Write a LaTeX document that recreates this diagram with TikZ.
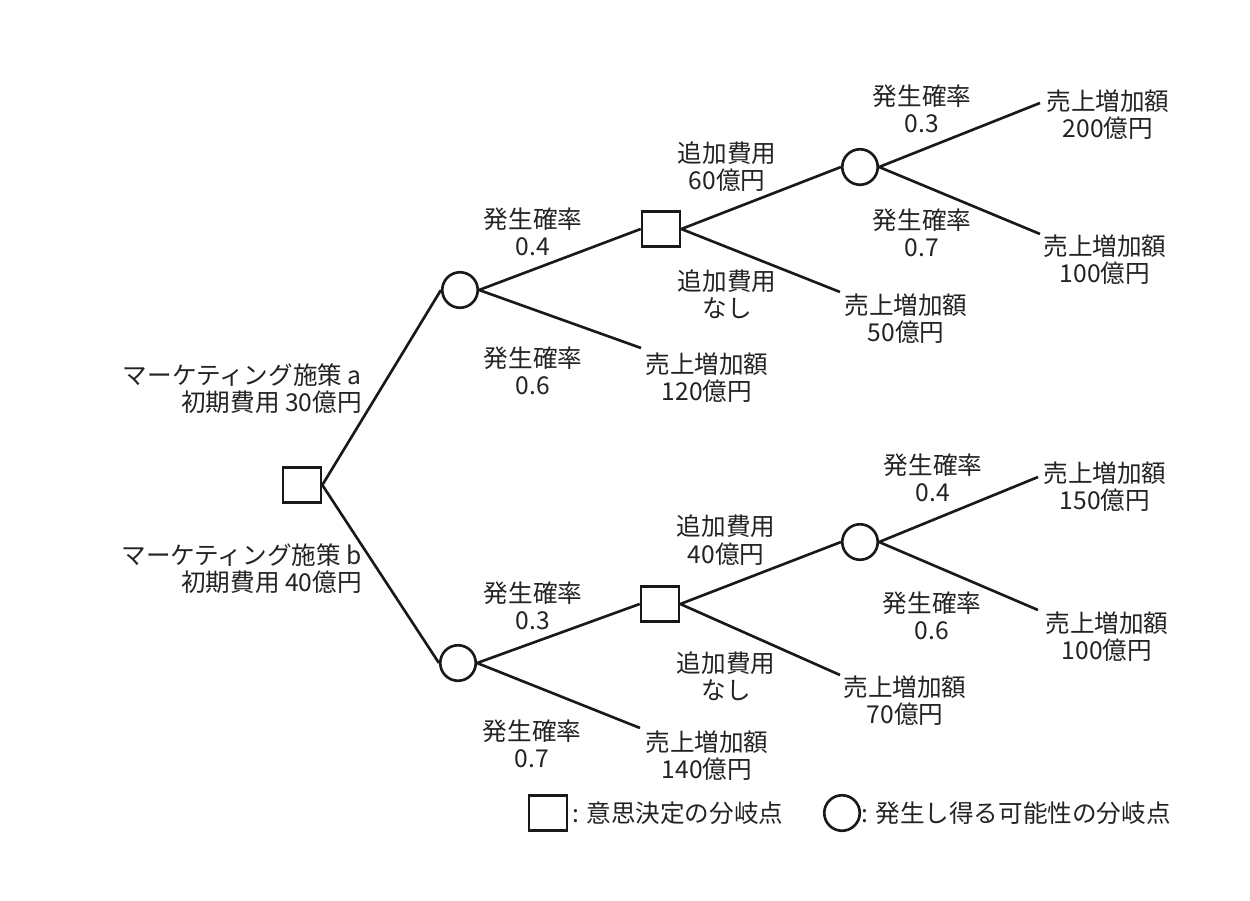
\documentclass[tikz,border=0pt]{standalone}
\usepackage{fontspec}
\setmainfont{Noto Sans CJK JP}
\usepackage{tikz}
\usetikzlibrary{
  positioning,
  calc
}
\definecolor{treecolor}{RGB}{25, 25, 25}
\definecolor{labelcolor}{RGB}{35, 35, 35}
\tikzset{
labeltext/.style={
  align=center,
  font=\fontsize{14}{15.5}\selectfont,
  text=labelcolor,
  inner sep=0pt
},
decisionnode/.style={
  draw=treecolor,
  line width=1.5pt,
  minimum width=7.6mm,
  minimum height=7.0mm,
  inner sep=0pt,
  fill=white
},
chancenode/.style={
  draw=treecolor,
  circle,
  line width=1.5pt,
  minimum size=7.1mm,
  inner sep=0pt,
  fill=white
},
branch/.style={
  draw=treecolor,
  line width=1.5pt
}
}

\begin{document}
\begin{tikzpicture}[x=0.02cm, y=-0.02cm]
        \useasboundingbox (0,0) rectangle (1250,900);

        % decision and chance points
        \node[decisionnode] (root) at (302,485) {};
        \node[chancenode] (ca) at (460,290) {};
        \node[decisionnode] (da) at (661,229) {};
        \node[chancenode] (ca2) at (860,167) {};
        \node[chancenode] (cb) at (458,663) {};
        \node[decisionnode] (db) at (660,604) {};
        \node[chancenode] (cb2) at (860,542) {};

        % leaf ends
        \coordinate (la1) at (1040,103);
        \coordinate (la2) at (1040,234);
        \coordinate (la3) at (840,292);
        \coordinate (la4) at (641,348);
        \coordinate (lb1) at (1038,477);
        \coordinate (lb2) at (1038,610);
        \coordinate (lb3) at (840,675);
        \coordinate (lb4) at (640,728);

        % branches of plan a
        \draw[branch] (root.east) -- (ca.west);
        \draw[branch] (ca.east) -- (da.west);
        \draw[branch] (ca.east) -- (la4);
        \draw[branch] (da.east) -- (ca2.west);
        \draw[branch] (da.east) -- (la3);
        \draw[branch] (ca2.east) -- (la1);
        \draw[branch] (ca2.east) -- (la2);

        % branches of plan b
        \draw[branch] (root.east) -- (cb.west);
        \draw[branch] (cb.east) -- (db.west);
        \draw[branch] (cb.east) -- (lb4);
        \draw[branch] (db.east) -- (cb2.west);
        \draw[branch] (db.east) -- (lb3);
        \draw[branch] (cb2.east) -- (lb1);
        \draw[branch] (cb2.east) -- (lb2);

        % plan labels
        \node[labeltext, align=right, anchor=east] (plana) at (362,389) {マーケティング施策 a\\初期費用 30億円};
        \node[labeltext, align=right, anchor=east] (planb) at (362,569) {マーケティング施策 b\\初期費用 40億円};

        % edge labels, plan a
        \node[labeltext] (pa1) at (533,232) {発生確率\\0.4};
        \node[labeltext] (pa2) at (533,371) {発生確率\\0.6};
        \node[labeltext] (ea1) at (727,167) {追加費用\\60億円};
        \node[labeltext] (ea2) at (727,294) {追加費用\\なし};
        \node[labeltext] (pa3) at (922,109) {発生確率\\0.3};
        \node[labeltext] (pa4) at (922,233) {発生確率\\0.7};

        % edge labels, plan b
        \node[labeltext] (pb1) at (533,606) {発生確率\\0.3};
        \node[labeltext] (pb2) at (532,744) {発生確率\\0.7};
        \node[labeltext] (eb1) at (726,540) {追加費用\\40億円};
        \node[labeltext] (eb2) at (726,676) {追加費用\\なし};
        \node[labeltext] (pb3) at (933,478) {発生確率\\0.4};
        \node[labeltext] (pb4) at (932,616) {発生確率\\0.6};

        % outcomes
        \node[labeltext] (va1) at (1108,115) {売上増加額\\200億円};
        \node[labeltext] (va2) at (1105,260) {売上増加額\\100億円};
        \node[labeltext] (va3) at (906,319) {売上増加額\\50億円};
        \node[labeltext] (va4) at (707,378) {売上増加額\\120億円};
        \node[labeltext] (vb1) at (1105,487) {売上増加額\\150億円};
        \node[labeltext] (vb2) at (1107,637) {売上増加額\\100億円};
        \node[labeltext] (vb3) at (905,701) {売上増加額\\70億円};
        \node[labeltext] (vb4) at (707,756) {売上増加額\\140億円};

        % legend
        \node[decisionnode] (keyd) at (548,813) {};
        \node[labeltext, anchor=west] (keydtext) at (572,813) {: 意思決定の分岐点};
        \node[chancenode] (keyc) at (842,813) {};
        \node[labeltext, anchor=west] (keyctext) at (861,813) {: 発生し得る可能性の分岐点};
      \end{tikzpicture}
\end{document}
